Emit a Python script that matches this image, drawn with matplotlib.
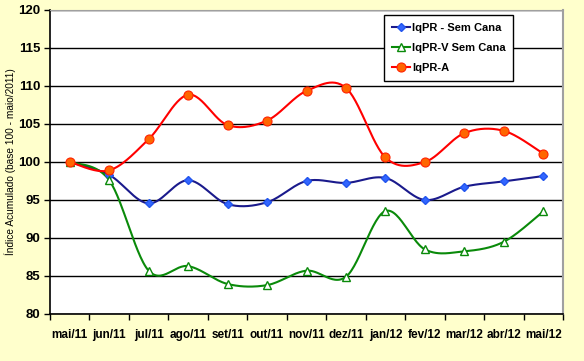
import numpy as np
import matplotlib
matplotlib.use("Agg")
import matplotlib.pyplot as plt

months = ["mai/11", "jun/11", "jul/11", "ago/11", "set/11", "out/11", "nov/11",
          "dez/11", "jan/12", "fev/12", "mar/12", "abr/12", "mai/12"]
iqpr = [100, 98.3, 94.55, 97.6, 94.45, 94.7, 97.5, 97.25, 97.9, 95.0, 96.75, 97.45, 98.15]
iqpr_v = [100, 97.6, 85.7, 86.3, 83.95, 83.8, 85.7, 84.9, 93.55, 88.5, 88.25, 89.5, 93.5]
iqpr_a = [100, 98.9, 103.0, 108.85, 104.85, 105.45, 109.35, 109.75, 100.6, 100.0, 103.8, 104.1, 101.1]


def smooth(y, n=30):
    # excel style smoothed line (catmull-rom via bezier)
    y = np.asarray(y, float)
    x = np.arange(len(y), dtype=float)
    xs, ys = [], []
    for i in range(len(y) - 1):
        x0, y0 = (x[i - 1], y[i - 1]) if i > 0 else (x[i], y[i])
        x3, y3 = (x[i + 2], y[i + 2]) if i + 2 < len(y) else (x[i + 1], y[i + 1])
        p1 = np.array([x[i], y[i]])
        p2 = np.array([x[i + 1], y[i + 1]])
        c1 = p1 + (p2 - np.array([x0, y0])) / 6
        c2 = p2 - (np.array([x3, y3]) - p1) / 6
        t = np.linspace(0, 1, n)[:, None]
        b = (1 - t) ** 3 * p1 + 3 * (1 - t) ** 2 * t * c1 + 3 * (1 - t) * t ** 2 * c2 + t ** 3 * p2
        xs.extend(b[:, 0])
        ys.extend(b[:, 1])
    return xs, ys


plt.rcParams['font.family'] = ['Liberation Sans', 'DejaVu Sans']

fig = plt.figure(figsize=(5.84, 3.61), dpi=100, facecolor='#FFFFCC')
ax = fig.add_axes([50 / 584, 1 - 314 / 361, 513 / 584, 304 / 361])
ax.set_facecolor('white')

x = np.arange(len(months))
series = [
    (iqpr, "IqPR - Sem Cana", '#1a1a8c', dict(marker='D', ms=4.5, mfc='#3366ff', mec='#2255ee')),
    (iqpr_v, "IqPR-V Sem Cana", '#0a8a0a', dict(marker='^', ms=6, mfc='white', mec='#0a8a0a', mew=1)),
    (iqpr_a, "IqPR-A", '#ff0000', dict(marker='o', ms=6.5, mfc='#ff6600', mec='#ff2200', mew=0.8)),
]
for vals, lab, col, mk in series:
    sx, sy = smooth(vals)
    ax.plot(sx, sy, color=col, lw=1.5, zorder=3)
    ax.plot(x, vals, ls='none', zorder=4, **mk)
    ax.plot([], [], color=col, lw=1.5, label=lab, **mk)

ax.set_xlim(-0.5, 12.5)
ax.set_ylim(80, 120)
ax.set_yticks(range(80, 121, 5))
ax.yaxis.grid(True, color='black', lw=1)
ax.set_axisbelow(True)

ax.set_xticks(x)
ax.set_xticklabels(months, fontsize=8.5, fontweight='bold')
ax.set_xticks(np.arange(-0.5, 13, 1), minor=True)
ax.tick_params(axis='x', which='major', length=0, pad=11)
ax.tick_params(axis='x', which='minor', length=4, width=1, direction='out')
ax.tick_params(axis='y', labelsize=9.5, length=4, width=1, direction='out', pad=3)
for t in ax.get_yticklabels():
    t.set_fontweight('bold')

ax.spines['left'].set_linewidth(1.2)
ax.spines['bottom'].set_linewidth(1.2)
ax.spines['top'].set_color('#a0a0a0')
ax.spines['right'].set_color('#a0a0a0')
ax.spines['right'].set_linewidth(1.5)

ax.set_ylabel("Índice Acumulado (base 100 - maio/2011)", fontsize=7.3, va='center')
ax.yaxis.set_label_coords(-0.078, 0.5)

leg = ax.legend(loc='upper left', bbox_to_anchor=(334 / 513, 1 - 5 / 304), borderaxespad=0,
                fancybox=False, framealpha=1, edgecolor='black', handlelength=1.6,
                handletextpad=0.2, borderpad=0.7, labelspacing=0.9,
                prop={'size': 8, 'weight': 'bold'})
leg.get_frame().set_linewidth(1)

fig.savefig("out.png", dpi=100, facecolor=fig.get_facecolor())
